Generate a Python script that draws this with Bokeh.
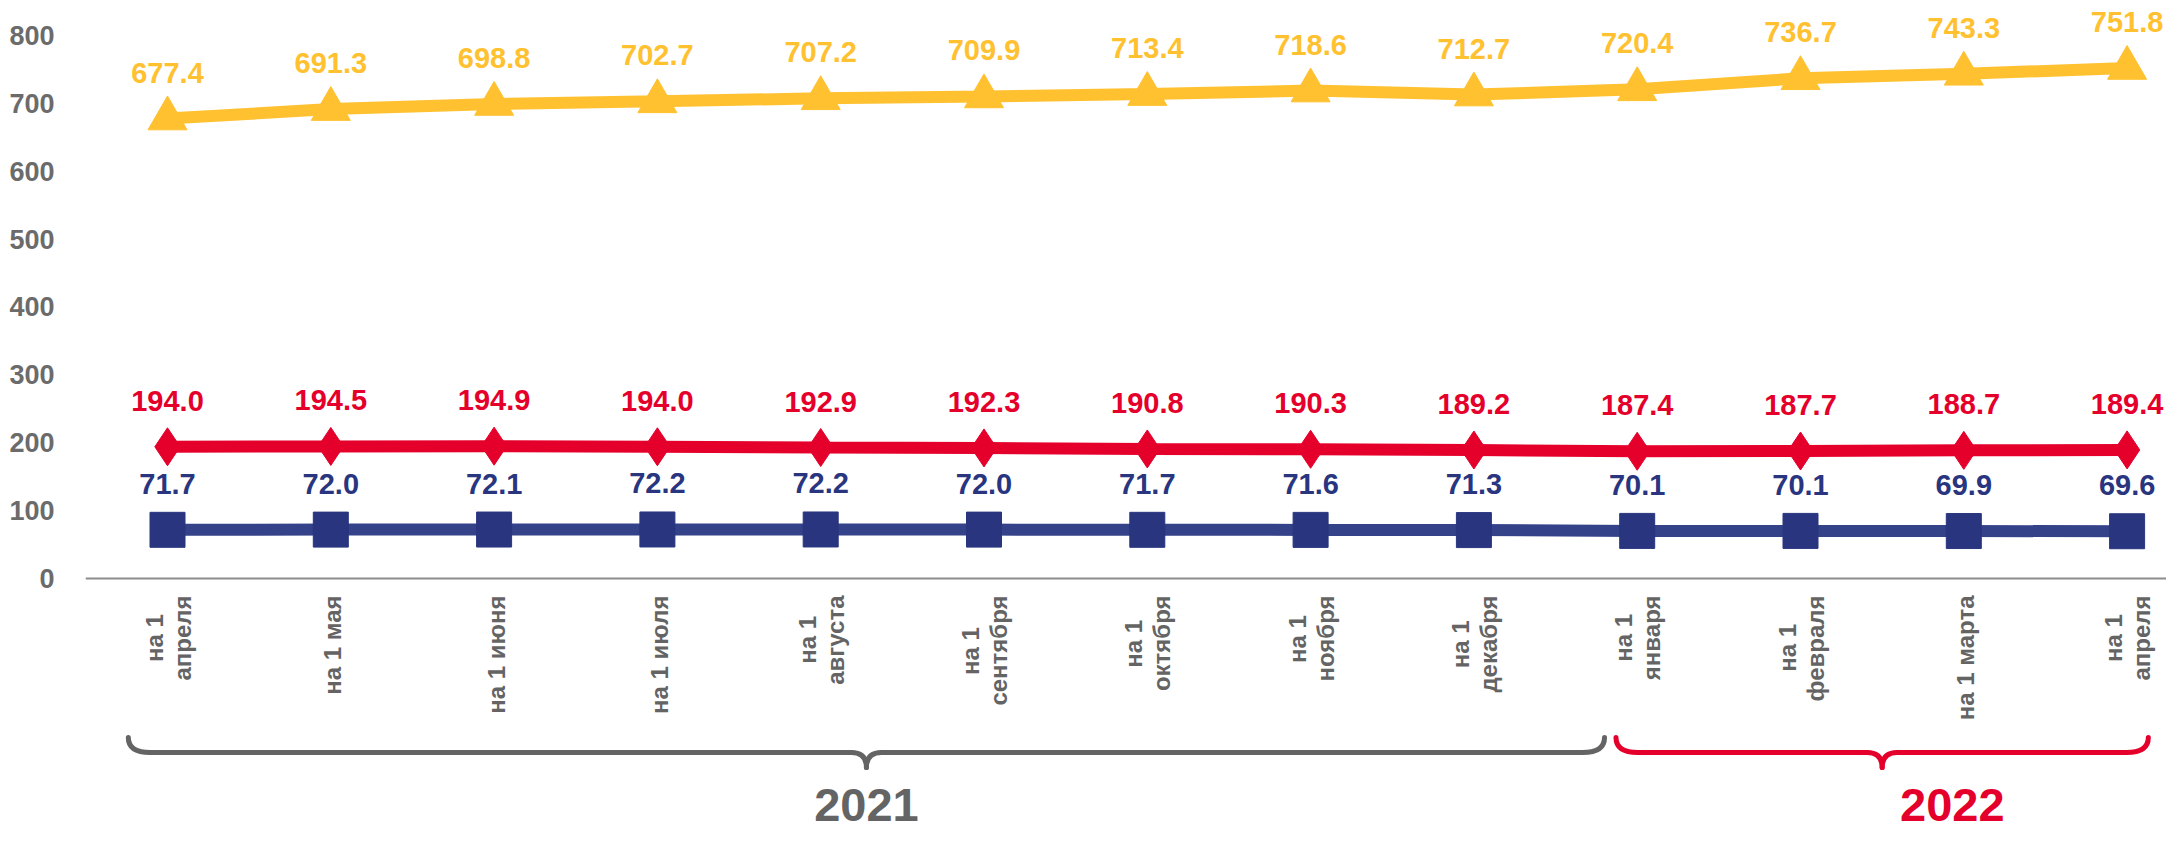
import math
from bokeh.plotting import figure
from bokeh.models import Span, FixedTicker, Range1d
from bokeh.core.properties import value
from bokeh.embed import file_html
from bokeh.resources import INLINE

# ---------------- data ----------------
categories = ["на 1\nапреля", "на 1 мая", "на 1 июня", "на 1 июля", "на 1\nавгуста",
              "на 1\nсентября", "на 1\nоктября", "на 1\nноября", "на 1\nдекабря",
              "на 1\nянваря", "на 1\nфевраля", "на 1 марта", "на 1\nапреля"]
series_yellow = [677.4, 691.3, 698.8, 702.7, 707.2, 709.9, 713.4, 718.6, 712.7, 720.4, 736.7, 743.3, 751.8]
series_red = [194.0, 194.5, 194.9, 194.0, 192.9, 192.3, 190.8, 190.3, 189.2, 187.4, 187.7, 188.7, 189.4]
series_blue = [71.7, 72.0, 72.1, 72.2, 72.2, 72.0, 71.7, 71.6, 71.3, 70.1, 70.1, 69.9, 69.6]
y_ticks = [0, 100, 200, 300, 400, 500, 600, 700, 800]
years = ["2021", "2022"]

# ---------------- layout constants ----------------
W, H = 2166, 831
LEFT = 85
XU = 163.3          # px per category
YU = 0.679          # px per data unit
ZERO_PX = 578       # px of y=0 from top of frame
FIRST_PX = 167      # px of first category
x_start = -(FIRST_PX - LEFT) / XU
x_end = x_start + (W - LEFT) / XU
y_end = ZERO_PX / YU
y_start = -(H - ZERO_PX) / YU

def py(px_below_zero):
    return -px_below_zero / YU

YELLOW = "#FFC12F"
RED = "#E4002B"
BLUE_M = "#29367F"
BLUE_L = "#34428A"
GRAY = "#646464"
FONT = value("Liberation Sans")

p = figure(width=W, height=H, x_range=Range1d(x_start, x_end), y_range=Range1d(y_start, y_end),
           output_backend="svg", toolbar_location=None, x_axis_location=None,
           min_border_left=LEFT, min_border_right=0, min_border_top=0, min_border_bottom=0)
p.outline_line_color = None
p.xgrid.visible = False
p.ygrid.visible = False
p.background_fill_color = "white"
p.border_fill_color = "white"

ax = p.yaxis[0]
ax.ticker = FixedTicker(ticks=y_ticks)
ax.axis_line_color = None
ax.major_tick_line_color = None
ax.minor_tick_line_color = None
ax.major_label_standoff = 25
ax.major_label_text_font = "Liberation Sans"
ax.major_label_text_font_size = "27px"
ax.major_label_text_font_style = "bold"
ax.major_label_text_color = "#6B6B6B"

p.add_layout(Span(location=0, dimension="width", line_color="#8C8C8C", line_width=2))

xs = list(range(len(categories)))

# series
for vals, lc, mc, tc, marker, msize in [
        (series_yellow, YELLOW, YELLOW, YELLOW, "triangle", 39),
        (series_red, RED, RED, RED, "diamond", 38),
        (series_blue, BLUE_L, BLUE_M, BLUE_M, "square", 35)]:
    p.line(xs, vals, line_color=lc, line_width=12)
    p.scatter(xs, vals, marker=marker, size=msize, fill_color=mc, line_color=mc)
    p.text(xs, [v + 46 / YU for v in vals], text=["%.1f" % v for v in vals],
           text_font=FONT, text_font_size="29px", text_font_style="bold",
           text_color=tc, text_align="center", text_baseline="middle")

# category labels (rotated, multi-line, lines centred)
WID = {'а': .556, 'б': .611, 'в': .573, 'г': .417, 'д': .625, 'е': .556, 'ж': .823, 'з': .521,
       'и': .625, 'й': .625, 'к': .531, 'л': .625, 'м': .750, 'н': .625, 'о': .611, 'п': .625,
       'р': .611, 'с': .556, 'т': .500, 'у': .556, 'ф': .875, 'х': .556, 'ц': .635, 'ч': .594,
       'ш': .885, 'щ': .896, 'ь': .573, 'ы': .823, 'ъ': .708, 'э': .556, 'ю': .865, 'я': .594, ' ': .278}
CAT_FS = 24

def tw(s):
    return sum(WID.get(c, .556) for c in s) * CAT_FS

lx, ly, lt = [], [], []
TOP = 17  # px below axis where label text ends
for i, lab in enumerate(categories):
    lines = lab.split("\n")
    offs = [2] if len(lines) == 1 else [-13.5, 14.5]
    wmax = max(tw(s) for s in lines)
    for s, o in zip(lines, offs):
        lx.append(i + o / XU)
        ly.append(py(TOP + (wmax - tw(s)) / 2))
        lt.append(s)
p.text(lx, ly, text=lt, angle=math.pi / 2, text_align="right", text_baseline="middle",
       text_font=FONT, text_font_size="%dpx" % CAT_FS, text_font_style="bold", text_color=GRAY)

# braces
brace_extents = [(-0.24, 8.80), (8.87, 12.13)]
brace_colors = [GRAY, RED]
year_x = [4.28, 10.93]
B_TOP, B_LINE, B_TIP = 159, 174, 189   # px below axis
R_END, R_TIP = 22, 15

for (a, b), col in zip(brace_extents, brace_colors):
    m = (a + b) / 2
    yt, yl, yb = py(B_TOP), py(B_LINE), py(B_TIP)
    re, rt = R_END / XU, R_TIP / XU
    p.quadratic(x0=[a, b], y0=[yt, yt], x1=[a + re, b - re], y1=[yl, yl], cx=[a, b], cy=[yl, yl],
                line_color=col, line_width=5, line_cap="round")
    p.segment(x0=[a + re, m + rt], y0=[yl, yl], x1=[m - rt, b - re], y1=[yl, yl],
              line_color=col, line_width=5, line_cap="round")
    p.quadratic(x0=[m - rt, m + rt], y0=[yl, yl], x1=[m, m], y1=[yb, yb], cx=[m, m], cy=[yl, yl],
                line_color=col, line_width=5, line_cap="round")

p.text(year_x, [py(226)] * 2, text=years, text_align="center", text_baseline="middle",
       text_font=FONT, text_font_size="47px", text_font_style="bold", text_color=[GRAY, RED])

open("out.html", "w").write(file_html(p, INLINE))
